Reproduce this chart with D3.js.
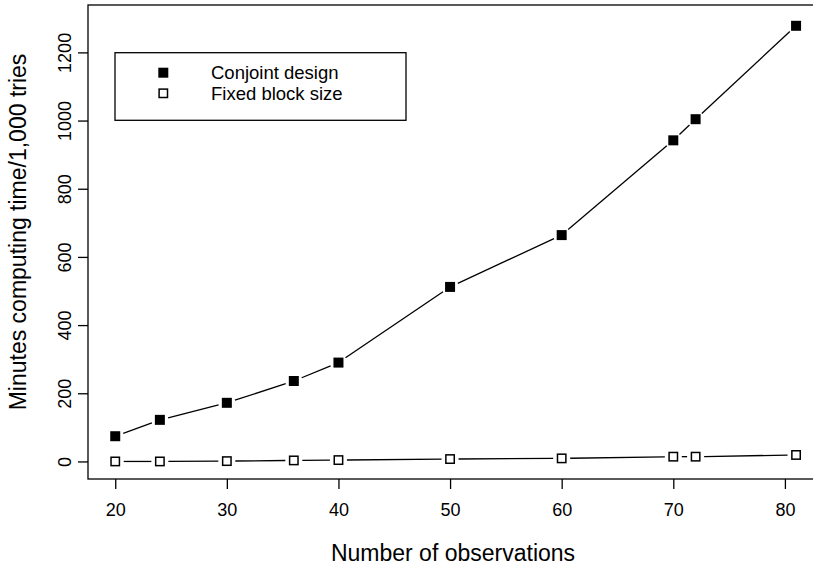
<!DOCTYPE html>
<html><head><meta charset="utf-8">
<script src="https://cdn.jsdelivr.net/npm/d3@7"></script>
<style>body{margin:0;background:#fff}svg{display:block}text{font-family:"Liberation Sans",Arial,sans-serif;fill:#000}</style>
</head><body>
<script>
const observations = [20, 24, 30, 36, 40, 50, 60, 70, 72, 81];
const conjoint = [74, 122, 172, 236, 290, 512, 664, 942, 1004, 1278];
const fixedBlock = [0, 0, 1, 3, 4, 7, 9, 14, 14, 19];
const xTicks = [20, 30, 40, 50, 60, 70, 80];
const yTicks = [0, 200, 400, 600, 800, 1000, 1200];
const seriesNames = ["Conjoint design", "Fixed block size"];

const W = 813, H = 569;
const svg = d3.select("body").append("svg").attr("width", W).attr("height", H);
const x = d3.scaleLinear().domain([17.56, 83.44]).range([88, 823.3]);
const y = d3.scaleLinear().domain([-51.5, 1339]).range([479, 5]);

// box
svg.append("rect").attr("x", x.range()[0]).attr("y", y.range()[1])
  .attr("width", x.range()[1] - x.range()[0]).attr("height", y.range()[0] - y.range()[1])
  .attr("fill", "none").attr("stroke", "#000").attr("stroke-width", 1.3);

// x axis
const xa = svg.append("g").attr("transform", `translate(0,${y.range()[0]})`)
  .call(d3.axisBottom(x).tickValues(xTicks).tickSize(10).tickPadding(24).tickFormat(d3.format("d")));
xa.select(".domain").remove();
xa.selectAll("line").attr("stroke-width", 1.3);
xa.selectAll("text").attr("font-size", 18).attr("font-family", "Liberation Sans, Arial, sans-serif").attr("dy", 0).attr("y", 37);

// y axis
const ya = svg.append("g").attr("transform", `translate(${x.range()[0]},0)`)
  .call(d3.axisLeft(y).tickValues(yTicks).tickSize(10).tickFormat(d3.format("d")));
ya.select(".domain").remove();
ya.selectAll("line").attr("stroke-width", 1.3);
ya.selectAll("text").attr("font-size", 18).attr("font-family", "Liberation Sans, Arial, sans-serif")
  .attr("x", null).attr("dy", 0).attr("text-anchor", "middle")
  .attr("transform", "translate(-17,0) rotate(-90)");

// titles
svg.append("text").attr("x", 453).attr("y", 561).attr("text-anchor", "middle")
  .attr("font-size", 23).text("Number of observations");
svg.append("text").attr("transform", "translate(25.5,232) rotate(-90)").attr("text-anchor", "middle")
  .attr("font-size", 23).text("Minutes computing time/1,000 tries");

// lines with gaps (type="b")
const gap = 8.5;
function drawSeries(vals, filled) {
  const pts = observations.map((o, i) => [x(o), y(vals[i])]);
  const segs = [];
  for (let i = 0; i < pts.length - 1; i++) {
    const [x1, y1] = pts[i], [x2, y2] = pts[i + 1];
    const dx = x2 - x1, dy = y2 - y1, L = Math.hypot(dx, dy);
    if (L > 2 * gap) {
      const ux = dx / L, uy = dy / L;
      segs.push([x1 + ux * gap, y1 + uy * gap, x2 - ux * gap, y2 - uy * gap]);
    }
  }
  svg.append("g").selectAll("line").data(segs).join("line")
    .attr("x1", d => d[0]).attr("y1", d => d[1]).attr("x2", d => d[2]).attr("y2", d => d[3])
    .attr("stroke", "#000").attr("stroke-width", 1.3);
  const s = filled ? 10 : 8.4;
  svg.append("g").selectAll("rect").data(pts).join("rect")
    .attr("x", d => d[0] - s / 2).attr("y", d => d[1] - s / 2).attr("width", s).attr("height", s)
    .attr("fill", filled ? "#000" : "#fff").attr("stroke", filled ? "none" : "#000").attr("stroke-width", 1.5);
}
drawSeries(conjoint, true);
drawSeries(fixedBlock, false);

// legend
svg.append("rect").attr("x", 115).attr("y", 52.7).attr("width", 291).attr("height", 67.6)
  .attr("fill", "#fff").attr("stroke", "#000").attr("stroke-width", 1.3);
const ly = [72.7, 93.3];
seriesNames.forEach((name, i) => {
  const filled = i === 0, s = filled ? 10 : 8.4;
  svg.append("rect").attr("x", 163.3 - s / 2).attr("y", ly[i] - s / 2).attr("width", s).attr("height", s)
    .attr("fill", filled ? "#000" : "#fff").attr("stroke", filled ? "none" : "#000").attr("stroke-width", 1.5);
  svg.append("text").attr("x", 211).attr("y", ly[i] + 6.5).attr("font-size", 18.5).text(name);
});
</script>
</body></html>
